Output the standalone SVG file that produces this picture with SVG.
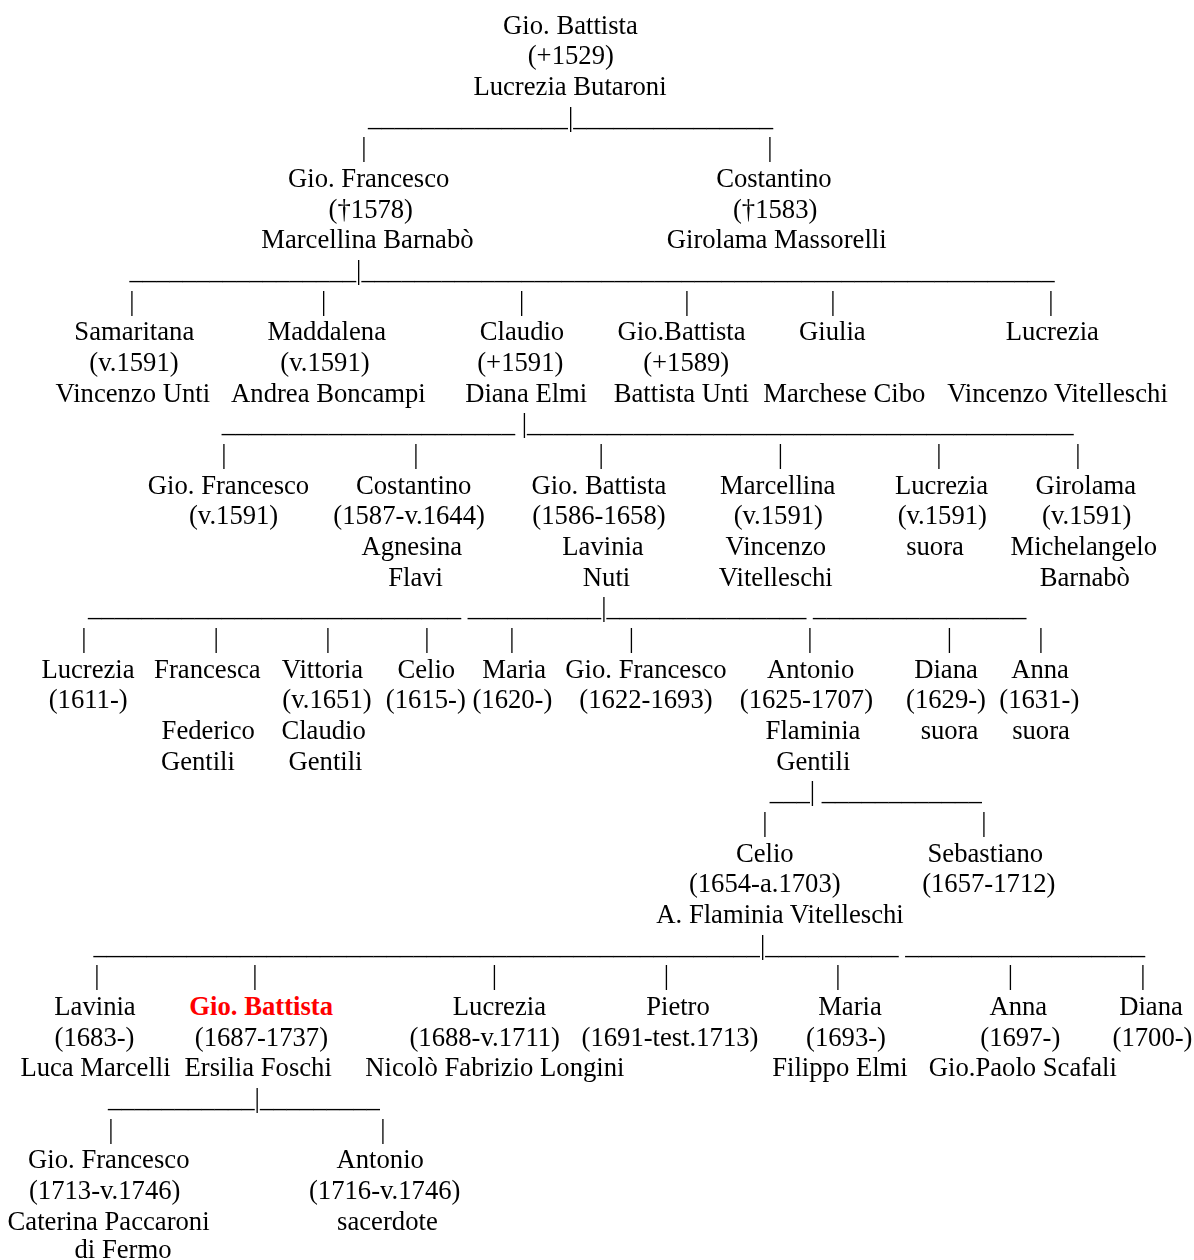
<svg xmlns="http://www.w3.org/2000/svg" width="1194" height="1260" viewBox="0 0 1194 1260">
<defs>
<filter id="gs" x="-5%" y="-20%" width="110%" height="140%"><feColorMatrix type="saturate" values="0"/></filter>
</defs>
<style>
text{font-family:"Liberation Serif","Times New Roman",serif;font-size:26.67px;fill:#000}
.n text{text-anchor:middle}
.p{text-anchor:middle}
.u{text-anchor:start;white-space:pre}
.red{fill:#ff0000;font-weight:bold}
.g{filter:url(#gs)}
</style>
<rect width="1194" height="1260" fill="#fff"/>
<g id="connectors" class="g">
<text class="u" x="368" y="125.5">_______________|_______________</text>
<text class="p" x="364" y="156.2">|</text><text class="p" x="770" y="156.2">|</text>
<text class="u" x="129.5" y="278.8">_________________|____________________________________________________</text>
<text class="p" x="132" y="309.5">|</text><text class="p" x="323.6" y="309.5">|</text><text class="p" x="521.6" y="309.5">|</text><text class="p" x="687" y="309.5">|</text><text class="p" x="833" y="309.5">|</text><text class="p" x="1051" y="309.5">|</text>
<text class="u" x="221.8" y="432.2">______________________ |_________________________________________</text>
<text class="p" x="224" y="462.8">|</text><text class="p" x="415.8" y="462.8">|</text><text class="p" x="601.2" y="462.8">|</text><text class="p" x="780.4" y="462.8">|</text><text class="p" x="938.8" y="462.8">|</text><text class="p" x="1078" y="462.8">|</text>
<text class="u" x="88" y="616.2">____________________________ __________|_______________ ________________</text>
<text class="p" x="84" y="646.8">|</text><text class="p" x="216.2" y="646.8">|</text><text class="p" x="328" y="646.8">|</text><text class="p" x="427" y="646.8">|</text><text class="p" x="512" y="646.8">|</text><text class="p" x="631.5" y="646.8">|</text><text class="p" x="810" y="646.8">|</text><text class="p" x="949.5" y="646.8">|</text><text class="p" x="1041" y="646.8">|</text>
<text class="u" x="769.8" y="800.2">___| ____________</text>
<text class="p" x="765" y="830.8">|</text><text class="p" x="984" y="830.8">|</text>
<text class="u" x="93.5" y="953.5">__________________________________________________|__________ __________________</text>
<text class="p" x="97" y="984.2">|</text><text class="p" x="254.8" y="984.2">|</text><text class="p" x="494.5" y="984.2">|</text><text class="p" x="666.3" y="984.2">|</text><text class="p" x="838" y="984.2">|</text><text class="p" x="1010.5" y="984.2">|</text><text class="p" x="1143" y="984.2">|</text>
<text class="u" x="108" y="1106.8">___________|_________</text>
<text class="p" x="111" y="1137.5">|</text><text class="p" x="383" y="1137.5">|</text>
</g>
<g id="n-giobattista-1529" class="n g"><text x="570.5" y="33.5">Gio. Battista</text><text x="570.8" y="64.2">(+1529)</text><text x="570" y="94.8">Lucrezia Butaroni</text></g>
<g id="n-giofrancesco-1578" class="n g"><text x="368.7" y="186.8">Gio. Francesco</text><text x="370.8" y="217.5">(†1578)</text><text x="367.4" y="248.2">Marcellina Barnabò</text></g>
<g id="n-costantino-1583" class="n g"><text x="773.9" y="186.8">Costantino</text><text x="775.2" y="217.5">(†1583)</text><text x="776.7" y="248.2">Girolama Massorelli</text></g>
<g id="n-samaritana" class="n g"><text x="134.3" y="340.2">Samaritana</text><text x="134" y="370.8">(v.1591)</text><text x="132.8" y="401.5">Vincenzo Unti</text></g>
<g id="n-maddalena" class="n g"><text x="326.8" y="340.2">Maddalena</text><text x="325" y="370.8">(v.1591)</text><text x="328.4" y="401.5">Andrea Boncampi</text></g>
<g id="n-claudio" class="n g"><text x="522" y="340.2">Claudio</text><text x="520.3" y="370.8">(+1591)</text><text x="526.2" y="401.5">Diana Elmi</text></g>
<g id="n-giobattista-1589" class="n g"><text x="681.5" y="340.2">Gio.Battista</text><text x="686.2" y="370.8">(+1589)</text><text x="681.5" y="401.5">Battista Unti</text></g>
<g id="n-giulia" class="n g"><text x="832.4" y="340.2">Giulia</text><text x="844.3" y="401.5">Marchese Cibo</text></g>
<g id="n-lucrezia-1" class="n g"><text x="1052.3" y="340.2">Lucrezia</text><text x="1057.5" y="401.5">Vincenzo Vitelleschi</text></g>
<g id="n-giofrancesco-1591" class="n g"><text x="228.5" y="493.5">Gio. Francesco</text><text x="233.6" y="524.2">(v.1591)</text></g>
<g id="n-costantino-1587" class="n g"><text x="413.7" y="493.5">Costantino</text><text x="409.1" y="524.2">(1587-v.1644)</text><text x="411.8" y="554.8">Agnesina</text><text x="415.6" y="585.5">Flavi</text></g>
<g id="n-giobattista-1586" class="n g"><text x="599" y="493.5">Gio. Battista</text><text x="599" y="524.2">(1586-1658)</text><text x="603" y="554.8">Lavinia</text><text x="606.5" y="585.5">Nuti</text></g>
<g id="n-marcellina" class="n g"><text x="777.7" y="493.5">Marcellina</text><text x="778.3" y="524.2">(v.1591)</text><text x="775.8" y="554.8">Vincenzo</text><text x="775.8" y="585.5">Vitelleschi</text></g>
<g id="n-lucrezia-2" class="n g"><text x="941.5" y="493.5">Lucrezia</text><text x="942.3" y="524.2">(v.1591)</text><text x="935" y="554.8">suora</text></g>
<g id="n-girolama" class="n g"><text x="1085.8" y="493.5">Girolama</text><text x="1086.7" y="524.2">(v.1591)</text><text x="1083.8" y="554.8">Michelangelo</text><text x="1084.8" y="585.5">Barnabò</text></g>
<g id="n-lucrezia-1611" class="n g"><text x="88" y="677.5">Lucrezia</text><text x="88.2" y="708.2">(1611-)</text></g>
<g id="n-francesca" class="n g"><text x="207.4" y="677.5">Francesca</text><text x="208.2" y="738.8">Federico</text><text x="197.9" y="769.5">Gentili</text></g>
<g id="n-vittoria" class="n g"><text x="322.4" y="677.5">Vittoria</text><text x="327" y="708.2">(v.1651)</text><text x="323.6" y="738.8">Claudio</text><text x="325.5" y="769.5">Gentili</text></g>
<g id="n-celio-1615" class="n g"><text x="426.3" y="677.5">Celio</text><text x="425.8" y="708.2">(1615-)</text></g>
<g id="n-maria-1620" class="n g"><text x="514.2" y="677.5">Maria</text><text x="512.4" y="708.2">(1620-)</text></g>
<g id="n-giofrancesco-1622" class="n g"><text x="646" y="677.5">Gio. Francesco</text><text x="646" y="708.2">(1622-1693)</text></g>
<g id="n-antonio-1625" class="n g"><text x="810.6" y="677.5">Antonio</text><text x="806.4" y="708.2">(1625-1707)</text><text x="813" y="738.8">Flaminia</text><text x="813.3" y="769.5">Gentili</text></g>
<g id="n-diana-1629" class="n g"><text x="946" y="677.5">Diana</text><text x="946" y="708.2">(1629-)</text><text x="949.5" y="738.8">suora</text></g>
<g id="n-anna-1631" class="n g"><text x="1040" y="677.5">Anna</text><text x="1039.3" y="708.2">(1631-)</text><text x="1041" y="738.8">suora</text></g>
<g id="n-celio-1654" class="n g"><text x="764.8" y="861.5">Celio</text><text x="764.8" y="892.2">(1654-a.1703)</text><text x="780" y="922.8">A. Flaminia Vitelleschi</text></g>
<g id="n-sebastiano" class="n g"><text x="985.3" y="861.5">Sebastiano</text><text x="988.8" y="892.2">(1657-1712)</text></g>
<g id="n-lavinia" class="n g"><text x="95" y="1014.8">Lavinia</text><text x="94.5" y="1045.5">(1683-)</text><text x="95.5" y="1076.2">Luca Marcelli</text></g>
<g id="n-giobattista-1687" class="n"><text class="red" x="261.2" y="1014.8">Gio. Battista</text><text class="g" x="261.4" y="1045.5">(1687-1737)</text><text class="g" x="258.2" y="1076.2">Ersilia Foschi</text></g>
<g id="n-lucrezia-1688" class="n g"><text x="499.4" y="1014.8">Lucrezia</text><text x="484.7" y="1045.5">(1688-v.1711)</text><text x="494.9" y="1076.2">Nicolò Fabrizio Longini</text></g>
<g id="n-pietro" class="n g"><text x="678" y="1014.8">Pietro</text><text x="670" y="1045.5">(1691-test.1713)</text></g>
<g id="n-maria-1693" class="n g"><text x="850" y="1014.8">Maria</text><text x="846" y="1045.5">(1693-)</text><text x="840" y="1076.2">Filippo Elmi</text></g>
<g id="n-anna-1697" class="n g"><text x="1018.3" y="1014.8">Anna</text><text x="1020.3" y="1045.5">(1697-)</text><text x="1022.8" y="1076.2">Gio.Paolo Scafali</text></g>
<g id="n-diana-1700" class="n g"><text x="1151" y="1014.8">Diana</text><text x="1152.5" y="1045.5">(1700-)</text></g>
<g id="n-giofrancesco-1713" class="n g"><text x="108.8" y="1168.2">Gio. Francesco</text><text x="104.7" y="1198.8">(1713-v.1746)</text><text x="108.6" y="1229.5">Caterina Paccaroni</text><text x="123" y="1258">di Fermo</text></g>
<g id="n-antonio-1716" class="n g"><text x="380.2" y="1168.2">Antonio</text><text x="384.7" y="1198.8">(1716-v.1746)</text><text x="387.4" y="1229.5">sacerdote</text></g>
</svg>
